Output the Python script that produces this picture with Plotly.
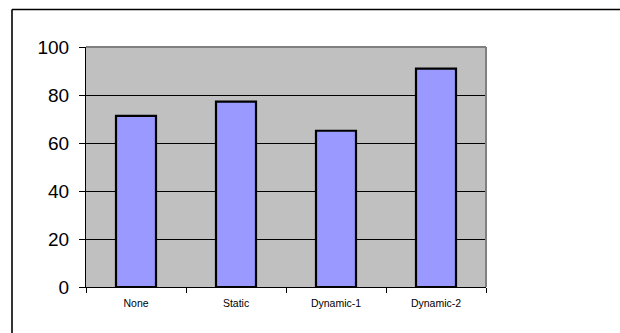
import plotly.graph_objects as go

categories = ["None", "Static", "Dynamic-1", "Dynamic-2"]
values = [71.3, 77.2, 65.1, 91.0]
y_ticks = [0, 20, 40, 60, 80, 100]

fig = go.Figure()
fig.add_trace(go.Bar(
    x=categories, y=values, width=0.4,
    marker=dict(color="#9999FF", line=dict(color="#000000", width=2.2)),
))

fig.update_layout(
    width=620, height=333,
    margin=dict(l=86, r=134, t=47, b=46),
    paper_bgcolor="white", plot_bgcolor="#C0C0C0",
    showlegend=False,
    font=dict(family="Liberation Sans, Arial", color="black"),
)
fig.update_yaxes(
    range=[0, 100], tickvals=y_ticks, showgrid=True, gridcolor="black", gridwidth=1,
    zeroline=False, showline=True, linecolor="black", linewidth=1,
    ticks="outside", ticklen=6, tickcolor="black", tickwidth=1,
    tickfont=dict(size=19), ticklabelstandoff=6,
)
fig.update_xaxes(
    showgrid=False, showline=True, linecolor="black", linewidth=1,
    ticks="outside", tickson="boundaries", ticklen=5, tickcolor="black",
    tickfont=dict(size=10.5), ticklabelstandoff=6,
)
# plot area border (gray) on top and right
fig.add_shape(type="line", xref="paper", yref="paper", x0=0, x1=1, y0=1, y1=1,
              line=dict(color="#808080", width=2))
fig.add_shape(type="line", xref="paper", yref="paper", x0=1, x1=1, y0=0, y1=1,
              line=dict(color="#808080", width=2))
# outer chart border (top and left visible)
fig.add_shape(type="line", xref="paper", yref="paper", x0=-0.185, x1=1.335, y0=1.156, y1=1.156,
              line=dict(color="black", width=1.6))
fig.add_shape(type="line", xref="paper", yref="paper", x0=-0.185, x1=-0.185, y0=1.156, y1=-0.2,
              line=dict(color="black", width=1.6))

fig.write_html("out.html")
